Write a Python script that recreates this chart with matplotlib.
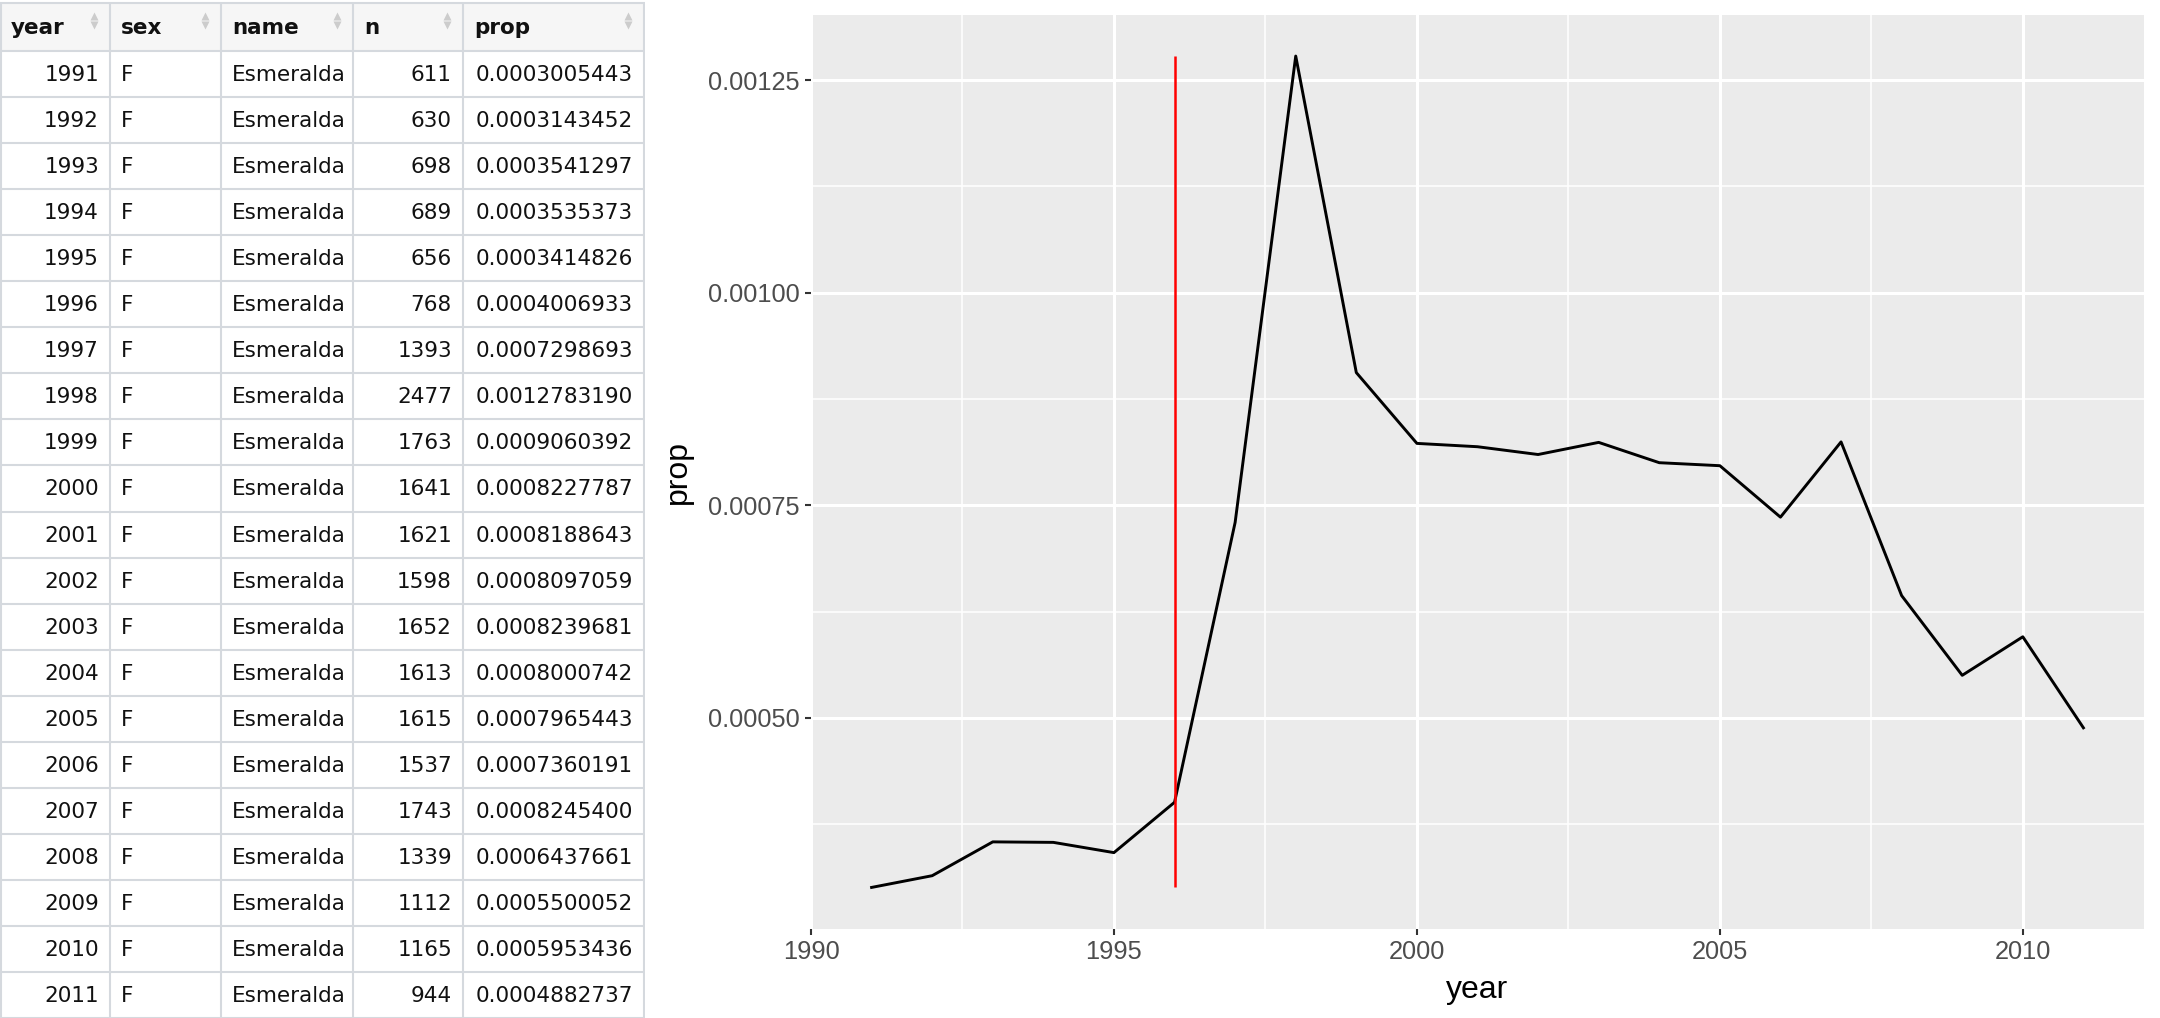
import matplotlib
matplotlib.use("Agg")
import matplotlib.pyplot as plt
from matplotlib.ticker import AutoMinorLocator, FormatStrFormatter

# data shown in the table and the plot
years = [1991, 1992, 1993, 1994, 1995, 1996, 1997, 1998, 1999, 2000, 2001,
         2002, 2003, 2004, 2005, 2006, 2007, 2008, 2009, 2010, 2011]
sexes = ["F"] * len(years)
names = ["Esmeralda"] * len(years)
counts = [611, 630, 698, 689, 656, 768, 1393, 2477, 1763, 1641, 1621,
          1598, 1652, 1613, 1615, 1537, 1743, 1339, 1112, 1165, 944]
props = ["0.0003005443", "0.0003143452", "0.0003541297", "0.0003535373",
         "0.0003414826", "0.0004006933", "0.0007298693", "0.0012783190",
         "0.0009060392", "0.0008227787", "0.0008188643", "0.0008097059",
         "0.0008239681", "0.0008000742", "0.0007965443", "0.0007360191",
         "0.0008245400", "0.0006437661", "0.0005500052", "0.0005953436",
         "0.0004882737"]
columns = ["year", "sex", "name", "n", "prop"]
release_year = 1996

x_ticks = [1990, 1995, 2000, 2005, 2010]
y_ticks = [0.0005, 0.00075, 0.001, 0.00125]

W, H = 2160, 1018
fig = plt.figure(figsize=(W / 100, H / 100), dpi=100)

# ---- table on the left ----
col_edges = [0, 110, 221, 353, 463, 644]
align = ["right", "left", "left", "right", "right"]
head_top, head_bot = 3, 51
row_h = 46.05
border = "#D5D9DE"

tab = fig.add_axes([0, 0, 645 / W, 1])
tab.set_xlim(0, 645)
tab.set_ylim(H, 0)
tab.axis("off")

tab.fill_between([0, 644], head_top, head_bot, color="#F6F6F6", lw=0)
n_rows = len(years)
bottom = head_bot + n_rows * row_h
for x in col_edges:
    xx = x + 1 if x == 0 else x
    tab.plot([xx, xx], [head_top, bottom], color=border, lw=1.5,
             solid_capstyle="butt")
tab.plot([0, 644], [head_top, head_top], color=border, lw=1.5)
for i in range(n_rows + 1):
    y = head_bot + i * row_h
    tab.plot([0, 644], [y, y], color=border, lw=1.5)

for j, col in enumerate(columns):
    left, right = col_edges[j], col_edges[j + 1]
    tab.text(left + 11, (head_top + head_bot) / 2 + 1, col, ha="left", va="center",
             fontsize=15.5, fontweight="bold", color="#111111", family="DejaVu Sans")
    tab.plot([right - 16], [16], marker="^", ms=6, color="#CCCCCC", mec="none")
    tab.plot([right - 16], [25], marker="v", ms=6, color="#CCCCCC", mec="none")

for i in range(n_rows):
    yc = head_bot + (i + 0.5) * row_h + 1
    values = [str(years[i]), sexes[i], names[i], str(counts[i]), props[i]]
    for j, val in enumerate(values):
        left, right = col_edges[j], col_edges[j + 1]
        if align[j] == "right":
            tab.text(right - 11, yc, val, ha="right", va="center", fontsize=15.5,
                     color="#111111", family="DejaVu Sans")
        else:
            tab.text(left + 11, yc, val, ha="left", va="center", fontsize=15.5,
                     color="#111111", family="DejaVu Sans")

# ---- line plot on the right ----
prop_vals = [float(p) for p in props]
left, right, top, bot = 811, 2144, 14.5, 929
ax = fig.add_axes([left / W, (H - bot) / H, (right - left) / W, (bot - top) / H])
ax.set_facecolor("#EBEBEB")
for s in ax.spines.values():
    s.set_visible(False)

ax.plot(years, prop_vals, color="black", lw=2.1, zorder=3)
ax.plot([release_year, release_year], [min(prop_vals), max(prop_vals)],
        color="#FF0000", lw=1.8, zorder=4, solid_capstyle="butt")

span = max(prop_vals) - min(prop_vals)
ax.set_xlim(min(years) - 0.05 * (max(years) - min(years)),
            max(years) + 0.05 * (max(years) - min(years)))
ax.set_ylim(min(prop_vals) - 0.05 * span, max(prop_vals) + 0.05 * span)

ax.set_xticks(x_ticks)
ax.set_yticks(y_ticks)
ax.yaxis.set_major_formatter(FormatStrFormatter("%.5f"))
ax.xaxis.set_minor_locator(AutoMinorLocator(2))
ax.yaxis.set_minor_locator(AutoMinorLocator(2))
ax.grid(which="major", color="white", lw=2.2)
ax.grid(which="minor", color="white", lw=1.1)
ax.set_axisbelow(True)

ax.tick_params(which="major", length=4.5, width=1.5, color="#333333",
               labelsize=18.3, labelcolor="#4D4D4D", pad=3.5)
ax.tick_params(which="minor", length=0)
for lab in ax.get_xticklabels() + ax.get_yticklabels():
    lab.set_family("Liberation Sans")

ax.set_xlabel("year", fontsize=23, family="Liberation Sans", color="black", labelpad=8)
ax.set_ylabel("prop", fontsize=23, family="Liberation Sans", color="black", labelpad=11)

fig.savefig("out.png", dpi=100)
